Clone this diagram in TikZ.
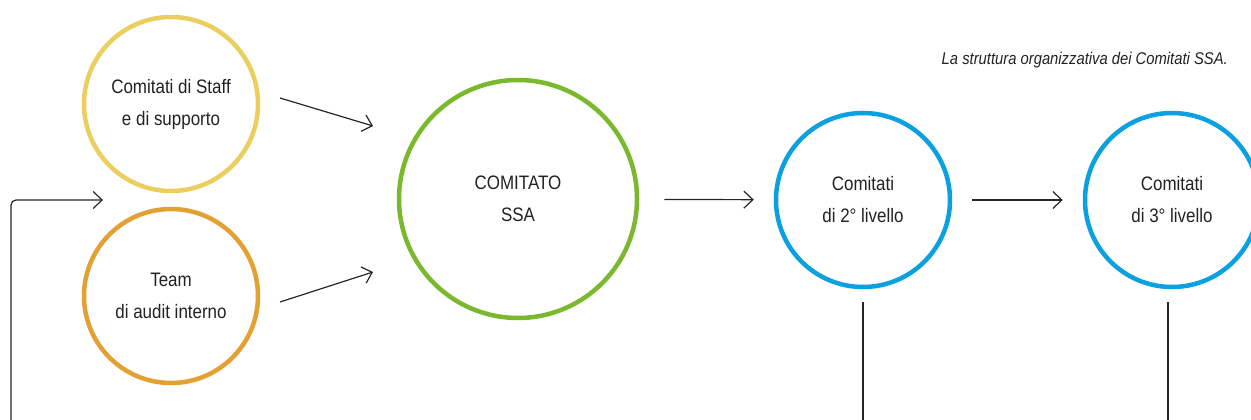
\documentclass[tikz,border=0pt]{standalone}
\usepackage{fontspec}
\setmainfont{Liberation Sans}[FakeStretch=0.87]
\usetikzlibrary{arrows.meta}
\definecolor{cyel}{HTML}{EACF5E}
\definecolor{corg}{HTML}{E3A033}
\definecolor{cgrn}{HTML}{7AB92E}
\definecolor{cblu}{HTML}{0BA0DF}
\definecolor{ctxt}{HTML}{222222}
\tikzset{
  ring/.style={circle, line width=4.5pt, inner sep=0pt, text=ctxt, align=center,
    font=\fontsize{19.5}{32}\selectfont},
  arr/.style={draw=black!85, line width=1.2pt, -{Straight Barb[length=9pt,width=17pt,line width=1.2pt]}},
  plain/.style={draw=black!85, line width=1.2pt},
}
\begin{document}
\begin{tikzpicture}[x=1pt,y=-1pt]
\useasboundingbox (0,0) rectangle (1251,420);
\node[ring, draw=cyel, minimum size=174pt] (yel) at (171,104) {Comitati di Staff\\e di supporto};
\node[ring, draw=corg, minimum size=174pt] (org) at (171,296) {Team\\di audit interno};
\node[ring, draw=cgrn, minimum size=238pt] (ssa) at (518,199) {COMITATO\\SSA};
\node[ring, draw=cblu, minimum size=174pt] (l2) at (863,200) {Comitati\\di 2° livello};
\node[ring, draw=cblu, minimum size=174pt] (l3) at (1172,200) {Comitati\\di 3° livello};
\node[anchor=base east, text=ctxt, font=\fontsize{17}{19}\selectfont\itshape, inner sep=0pt] (cap) at (1228,65) {La struttura organizzativa dei Comitati SSA.};
\coordinate (a1s) at (280,98);
\coordinate (a1e) at (373,126);
\coordinate (a2s) at (280,302);
\coordinate (a2e) at (373,272);
\coordinate (l2b) at (863,302);
\coordinate (l2e) at (863,425);
\coordinate (l3b) at (1168,302);
\coordinate (l3e) at (1168,425);
\coordinate (fb) at (11,425);
\coordinate (fe) at (103,200);
\draw[arr] (a1s) -- (a1e);
\draw[arr] (a2s) -- (a2e);
\draw[arr, shorten <=25pt, shorten >=20pt] (ssa) -- (l2);
\draw[arr, shorten <=20pt, shorten >=20pt] (l2) -- (l3);
\draw[plain] (l2b) -- (l2e);
\draw[plain] (l3b) -- (l3e);
\draw[arr, rounded corners=5pt] (fb) |- (fe);
\end{tikzpicture}
\end{document}
